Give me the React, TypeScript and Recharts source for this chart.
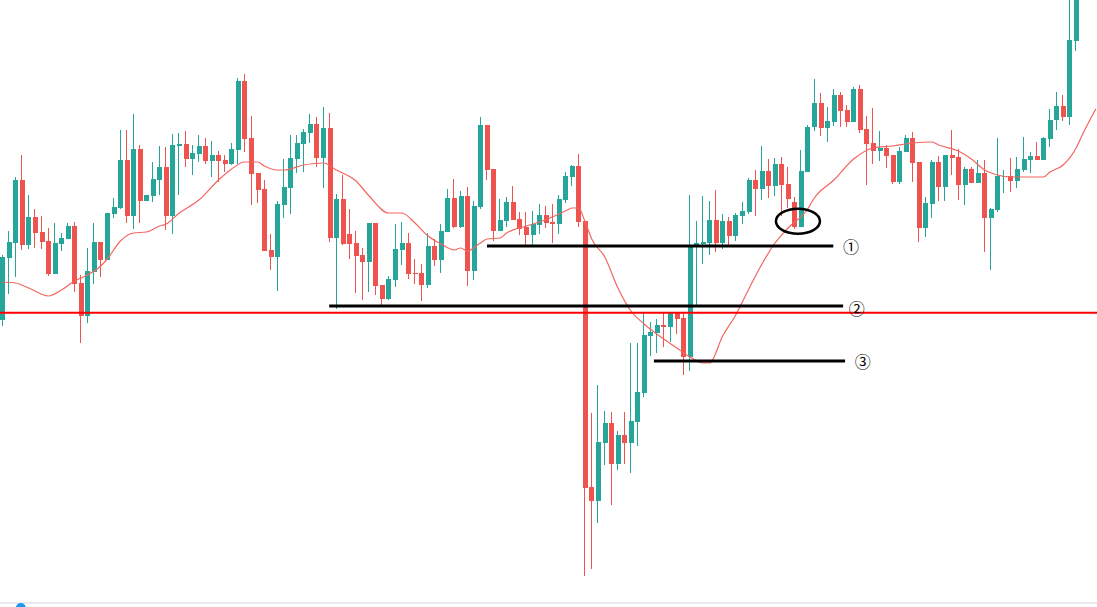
import React from "react";
import {
  ComposedChart,
  Bar,
  Line,
  XAxis,
  YAxis,
  ReferenceLine,
  ReferenceDot,
} from "recharts";

// candle prices (arbitrary units), one entry per bar
const opens = [
  287, 349, 364, 427, 362, 390, 375, 366, 333, 363,
  368, 381, 324, 291, 335, 365, 347, 393, 399, 447,
  391, 458, 406, 411, 427, 440, 391, 461, 463, 448,
  453, 461, 446, 452, 447, 443, 457, 526, 469, 434,
  418, 357, 350, 402, 419, 448, 463, 474, 483, 449,
  479, 369, 408, 373, 364, 352, 345, 384, 322, 308,
  327, 357, 364, 334, 334, 322, 361, 347, 375, 409,
  380, 411, 336, 400, 482, 438, 376, 386, 405, 388,
  380, 372, 382, 392, 385, 383, 407, 430, 441, 386,
  120, 106, 164, 184, 143, 172, 164, 185, 214, 271,
  274, 282, 280, 294, 289, 250, 361, 363, 364, 387,
  364, 386, 371, 391, 395, 427, 418, 436, 421, 443,
  423, 405, 380, 435, 480, 504, 479, 485, 512, 497,
  485, 518, 478, 464, 456, 459, 452, 425, 455, 469,
  445, 379, 403, 445, 420, 452, 450, 422, 438, 424,
  434, 389, 397, 430, 431, 426, 437, 447, 451, 447,
  468, 487, 501, 490, 566,
];
const highs = [
  352, 376, 430, 452, 412, 398, 391, 379, 384, 374,
  384, 385, 332, 359, 384, 365, 394, 409, 477, 477,
  493, 462, 412, 445, 461, 460, 473, 474, 476, 462,
  472, 469, 466, 456, 452, 464, 529, 533, 491, 434,
  427, 373, 406, 448, 472, 472, 478, 493, 490, 500,
  494, 413, 432, 398, 376, 359, 384, 384, 322, 331,
  383, 385, 374, 348, 343, 374, 368, 383, 418, 428,
  416, 420, 406, 490, 482, 438, 408, 410, 421, 395,
  395, 396, 403, 401, 403, 412, 435, 442, 453, 386,
  194, 222, 196, 195, 176, 195, 264, 264, 294, 285,
  288, 294, 295, 295, 294, 412, 386, 411, 406, 417,
  393, 390, 394, 405, 429, 437, 461, 448, 449, 450,
  440, 410, 457, 482, 528, 514, 500, 518, 515, 502,
  520, 522, 491, 499, 476, 462, 452, 460, 472, 475,
  445, 410, 447, 451, 452, 477, 458, 440, 440, 447,
  447, 399, 469, 437, 449, 450, 470, 455, 465, 470,
  498, 515, 512, 607, 617,
];
const lows = [
  281, 313, 330, 357, 358, 359, 358, 331, 333, 356,
  368, 315, 264, 284, 323, 330, 347, 389, 398, 384,
  378, 384, 406, 405, 412, 377, 373, 412, 440, 432,
  445, 443, 430, 425, 435, 442, 443, 455, 402, 404,
  356, 337, 316, 389, 393, 434, 435, 464, 440, 419,
  365, 298, 362, 348, 314, 307, 315, 312, 302, 307,
  320, 342, 328, 323, 306, 319, 341, 334, 375, 379,
  379, 321, 327, 398, 427, 366, 376, 380, 387, 372,
  362, 362, 373, 379, 364, 373, 404, 421, 380, 31,
  38, 84, 142, 102, 137, 143, 134, 161, 210, 251,
  254, 260, 265, 273, 232, 236, 302, 343, 352, 355,
  358, 362, 366, 383, 393, 391, 407, 409, 411, 391,
  399, 378, 380, 435, 476, 471, 465, 481, 480, 480,
  485, 474, 422, 443, 446, 439, 423, 423, 455, 425,
  365, 370, 389, 406, 406, 432, 407, 402, 424, 424,
  355, 337, 395, 414, 415, 419, 435, 434, 447, 447,
  460, 477, 486, 482, 556,
];
const closes = [
  350, 365, 427, 362, 390, 374, 365, 333, 364, 369,
  381, 323, 291, 336, 365, 347, 394, 400, 447, 391,
  458, 406, 412, 428, 440, 391, 462, 463, 448, 454,
  461, 446, 452, 446, 443, 458, 526, 468, 433, 417,
  356, 350, 403, 420, 449, 464, 475, 483, 449, 479,
  369, 408, 363, 363, 351, 345, 384, 321, 308, 328,
  358, 364, 333, 333, 322, 361, 347, 376, 409, 380,
  411, 336, 401, 482, 437, 376, 387, 405, 387, 378,
  372, 383, 392, 384, 383, 408, 431, 441, 385, 119,
  106, 165, 184, 143, 172, 164, 186, 215, 272, 275,
  282, 280, 294, 288, 250, 361, 364, 365, 387, 364,
  386, 371, 392, 396, 427, 418, 436, 421, 443, 422,
  408, 380, 436, 480, 504, 479, 486, 512, 496, 485,
  518, 477, 463, 456, 459, 451, 425, 456, 469, 444,
  379, 404, 445, 420, 452, 449, 422, 438, 424, 434,
  389, 398, 431, 431, 426, 438, 448, 451, 447, 469,
  487, 501, 490, 567, 612,
];

// moving average, read at these bar positions
const maIndex = [
  0, 2, 4, 7, 9, 11, 12, 15, 16, 18, 20, 22, 24, 25, 27, 30, 33, 35, 37, 39,
  40, 42, 43, 46, 49, 51, 54, 56, 59, 61, 63, 65, 67, 69, 70, 71, 73, 74, 76, 77,
  80, 82, 84, 86, 87, 88, 89, 90, 92, 94, 96, 98, 101, 103, 105, 107, 108, 110, 112, 114,
  116, 118, 120, 123, 124, 127, 130, 133, 136, 139, 142, 143, 146, 148, 150, 152, 154, 157, 159, 160,
  162, 164, 165, 167,
];
const maValues = [
  325, 324, 319, 311, 317, 326, 329, 341, 348, 366, 374, 375, 381, 383, 394, 407, 427, 438, 445, 445,
  441, 437, 437, 442, 444, 437, 426, 411, 394, 394, 384, 371, 363, 357, 359, 356, 364, 368, 369, 374,
  381, 385, 390, 396, 399, 399, 385, 368, 350, 319, 296, 283, 268, 259, 250, 244, 244, 271, 292, 318,
  343, 364, 379, 398, 409, 427, 448, 459, 461, 464, 465, 462, 456, 448, 437, 432, 430, 430, 430, 435,
  442, 459, 473, 498,
];

// support / resistance levels
const level1 = 361;
const level2 = 301;
const level3 = 246;
const redLevel = 294.3;

const UP = "#26a69a";
const DOWN = "#ef5350";
const LAST = 167;

const maMap = new Map<number, number>();
maIndex.forEach((idx, k) => maMap.set(idx, maValues[k]));

const data = Array.from({ length: LAST + 1 }, (_, i) => {
  const has = i < opens.length;
  return {
    i,
    range: has ? [lows[i], highs[i]] : null,
    open: has ? opens[i] : null,
    close: has ? closes[i] : null,
    high: has ? highs[i] : null,
    low: has ? lows[i] : null,
    ma: maMap.has(i) ? maMap.get(i) : null,
  };
});

const Candle = (props: any) => {
  const { x, y, width, height, payload } = props;
  if (!payload || payload.open == null) return null;
  const { open, close, high, low } = payload;
  const k = height / (high - low || 1);
  const py = (v: number) => y + (high - v) * k;
  const color = close >= open ? UP : DOWN;
  const cx = Math.round(x + width / 2) - 0.5;
  const top = Math.min(py(open), py(close));
  const bh = Math.max(Math.abs(py(open) - py(close)), 1);
  return (
    <g shapeRendering="crispEdges">
      <line x1={cx} x2={cx} y1={y} y2={y + height} stroke={color} strokeWidth={1} />
      <rect x={Math.round(x)} y={top} width={width} height={bh} fill={color} />
    </g>
  );
};

const Label = (text: string) => (props: any) => (
  <text
    x={props.cx}
    y={props.cy}
    textAnchor="middle"
    dominantBaseline="central"
    fontSize={16}
    fontFamily="'Noto Sans CJK SC', 'DejaVu Sans', sans-serif"
    fill="#000"
  >
    {text}
  </text>
);

const Ellipse = (props: any) => (
  <ellipse cx={props.cx} cy={props.cy} rx={22} ry={12.5} fill="none" stroke="#000" strokeWidth={2.5} />
);

export default function App() {
  return (
    <div style={{ position: "absolute", left: 0, top: 0, width: 1097, height: 607, background: "#fff" }}>
      <ComposedChart width={1097} height={607} data={data} margin={{ top: 0, right: 0, bottom: 0, left: 0 }}>
        <XAxis type="number" dataKey="i" domain={[-0.382, 167.18]} allowDataOverflow hide />
        <YAxis type="number" domain={[0, 607]} allowDataOverflow hide />

        <ReferenceLine y={4} stroke="#e0e3eb" strokeWidth={1.5} />
        <ReferenceDot x={2.8} y={-1} r={5} fill="#2196f3" stroke="none" ifOverflow="visible" />

        <Line
          type="monotone"
          dataKey="ma"
          stroke="#f26660"
          strokeWidth={1.2}
          dot={false}
          activeDot={false}
          connectNulls
          isAnimationActive={false}
        />
        <Bar dataKey="range" barSize={5} shape={<Candle />} isAnimationActive={false} />

        <ReferenceLine y={redLevel} stroke="#ff0000" strokeWidth={2} />
        <ReferenceLine segment={[{ x: 74.0, y: level1 }, { x: 126.9, y: level1 }]} stroke="#000" strokeWidth={3} />
        <ReferenceLine segment={[{ x: 49.9, y: level2 }, { x: 128.4, y: level2 }]} stroke="#000" strokeWidth={3} />
        <ReferenceLine segment={[{ x: 99.5, y: level3 }, { x: 128.7, y: level3 }]} stroke="#000" strokeWidth={3} />

        <ReferenceDot x={121.5} y={385.7} shape={Ellipse} />
        <ReferenceDot x={129.6} y={level1} shape={Label("①")} />
        <ReferenceDot x={130.5} y={299} shape={Label("②")} />
        <ReferenceDot x={131.4} y={level3} shape={Label("③")} />
      </ComposedChart>
    </div>
  );
}
